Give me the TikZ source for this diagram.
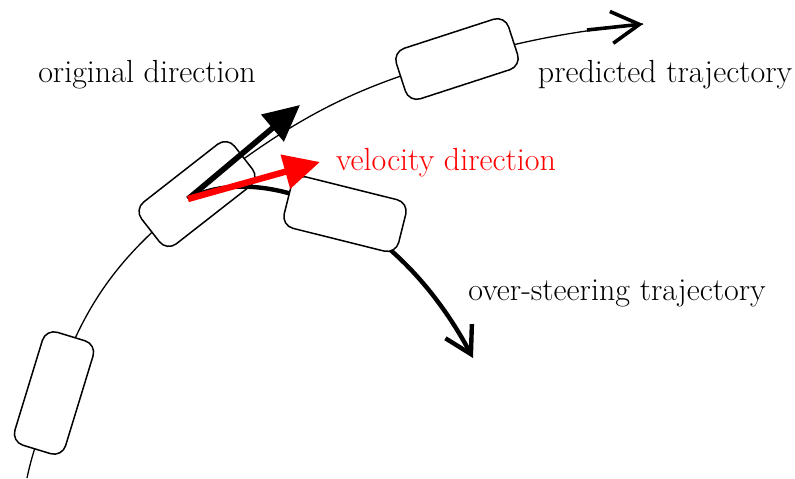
\RequirePackage{fix-cm}
\documentclass[tikz,border=0pt]{standalone}
\usepackage{tikz}
\usetikzlibrary{arrows.meta,backgrounds}

\begin{document}
\begin{tikzpicture}[
  x=0.5pt, y=0.5pt,
  car/.style={draw, fill=white, rounded corners=6pt, minimum width=59pt, minimum height=26.5pt, line width=0.75pt},
  track/.style={line width=0.65pt},
  heading/.style={line width=2.8pt, -{Triangle[length=18pt,width=17pt]}},
  steer/.style={line width=2.2pt, -{Straight Barb[length=13pt,width=15pt]}},
  predarr/.style={line width=1.8pt, -{Straight Barb[length=14pt,width=16pt]}},
  lbl/.style={anchor=base, inner sep=0pt, font=\fontsize{16}{19}\selectfont}
]
\useasboundingbox (0,0) rectangle (795,478);

% cars along the predicted trajectory
\node[car, rotate=73] (car1) at (54,85) {};
\node[car, rotate=38] (car2) at (197,284) {};
\node[car, rotate=18] (car3) at (457,419) {};

\coordinate (base) at (27,0);
\coordinate (predstem) at (587,448);
\coordinate (predtip) at (643,454);
\coordinate (pivot) at (188,279);
\coordinate (origtip) at (300,373);
\coordinate (veltip) at (320,316);
\coordinate (stertip) at (473,120);

\begin{scope}[on background layer]
\draw[track] (base) to[out=78,in=252] (car1.center) to[out=72,in=218] (car2.center)
  to[out=38,in=195] (car3.center) to[out=15,in=186] (predtip);
\end{scope}
\draw[predarr] (predstem) -- (predtip);

% over-steering
\draw[steer] (pivot) .. controls (255,315) and (390,275) .. (stertip);
\node[car, rotate=-14] (car4) at (345,264) {};

\draw[heading] (pivot) -- (origtip);
\draw[heading, red, line width=3.2pt] (pivot) -- (veltip);

\node[lbl] (orig) at (147,396) {original direction};
\node[lbl] (pred) at (665,396) {predicted trajectory};
\node[lbl, red] (vel) at (446,308) {velocity direction};
\node[lbl] (over) at (617,178) {over-steering trajectory};
\end{tikzpicture}
\end{document}
